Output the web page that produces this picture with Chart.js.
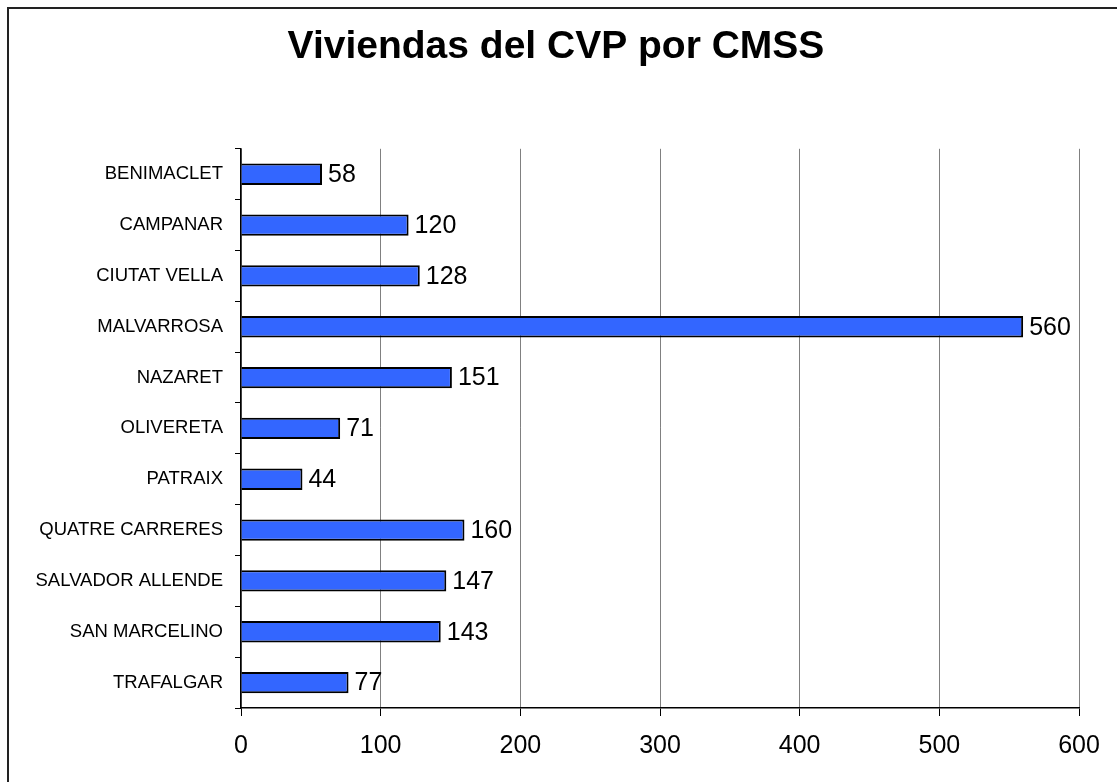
<!DOCTYPE html>
<html>
<head>
<meta charset="utf-8">
<script src="https://cdn.jsdelivr.net/npm/chart.js@4/dist/chart.umd.min.js"></script>
<style>
  html, body { margin: 0; padding: 0; background: #fff; overflow: hidden; }
  #wrap { position: relative; width: 1117px; height: 782px; }
  #frame { position: absolute; left: 7px; top: 7px; width: 1200px; height: 900px;
           border-left: 2px solid #222; border-top: 2px solid #222; pointer-events: none; }
  canvas { position: absolute; left: 0; top: 0; }
</style>
</head>
<body>
<div id="wrap">
  <canvas id="chart" width="1117" height="782"></canvas>
  <div id="frame"></div>
</div>
<script>
const categories = ['BENIMACLET', 'CAMPANAR', 'CIUTAT VELLA', 'MALVARROSA', 'NAZARET', 'OLIVERETA',
  'PATRAIX', 'QUATRE CARRERES', 'SALVADOR ALLENDE', 'SAN MARCELINO', 'TRAFALGAR'];
const viviendas = [58, 120, 128, 560, 151, 71, 44, 160, 147, 143, 77];
const xTicks = [0, 100, 200, 300, 400, 500, 600];

// value labels at the end of each bar
const barLabels = {
  id: 'barLabels',
  afterDatasetsDraw(chart) {
    const ctx = chart.ctx;
    const meta = chart.getDatasetMeta(0);
    ctx.save();
    ctx.font = '25px Arial, "Liberation Sans", sans-serif';
    ctx.fillStyle = '#000';
    ctx.textAlign = 'left';
    ctx.textBaseline = 'middle';
    meta.data.forEach((bar, i) => {
      ctx.fillText(String(viviendas[i]), bar.x + 6, bar.y + 1);
    });
    ctx.restore();
  }
};

const ctx = document.getElementById('chart').getContext('2d');
new Chart(ctx, {
  type: 'bar',
  data: {
    labels: categories,
    datasets: [{
      data: viviendas,
      backgroundColor: '#3366ff',
      borderColor: '#000',
      borderWidth: 2,
      barPercentage: 0.42,
      categoryPercentage: 1
    }]
  },
  options: {
    indexAxis: 'y',
    responsive: false,
    animation: false,
    layout: { padding: { left: 33, right: 38, top: 0, bottom: 0 } },
    plugins: {
      legend: { display: false },
      tooltip: { enabled: false },
      title: {
        display: true,
        text: 'Viviendas del CVP por CMSS',
        color: '#000',
        font: { family: 'Arial, "Liberation Sans", sans-serif', size: 39, weight: 'bold', lineHeight: 1.2 },
        padding: { top: 24, bottom: 78 }
      }
    },
    scales: {
      x: {
        min: 0,
        max: 600,
        afterBuildTicks: (scale) => { scale.ticks = xTicks.map(v => ({ value: v })); },
        afterFit: (scale) => { scale.height = 74; },
        grid: { color: '#808080', lineWidth: 1, tickLength: 8, tickColor: '#000' },
        border: { color: '#000', width: 1.5 },
        ticks: {
          color: '#000',
          padding: 15,
          font: { family: 'Arial, "Liberation Sans", sans-serif', size: 25 }
        }
      },
      y: {
        afterFit: (scale) => { scale.width = 208; },
        grid: { drawOnChartArea: false, offset: true, tickLength: 6, color: '#000' },
        border: { color: '#000', width: 1.5 },
        ticks: {
          color: '#000',
          padding: 12,
          autoSkip: false,
          font: { family: 'Arial, "Liberation Sans", sans-serif', size: 18.5 }
        }
      }
    }
  },
  plugins: [barLabels]
});
</script>
</body>
</html>
